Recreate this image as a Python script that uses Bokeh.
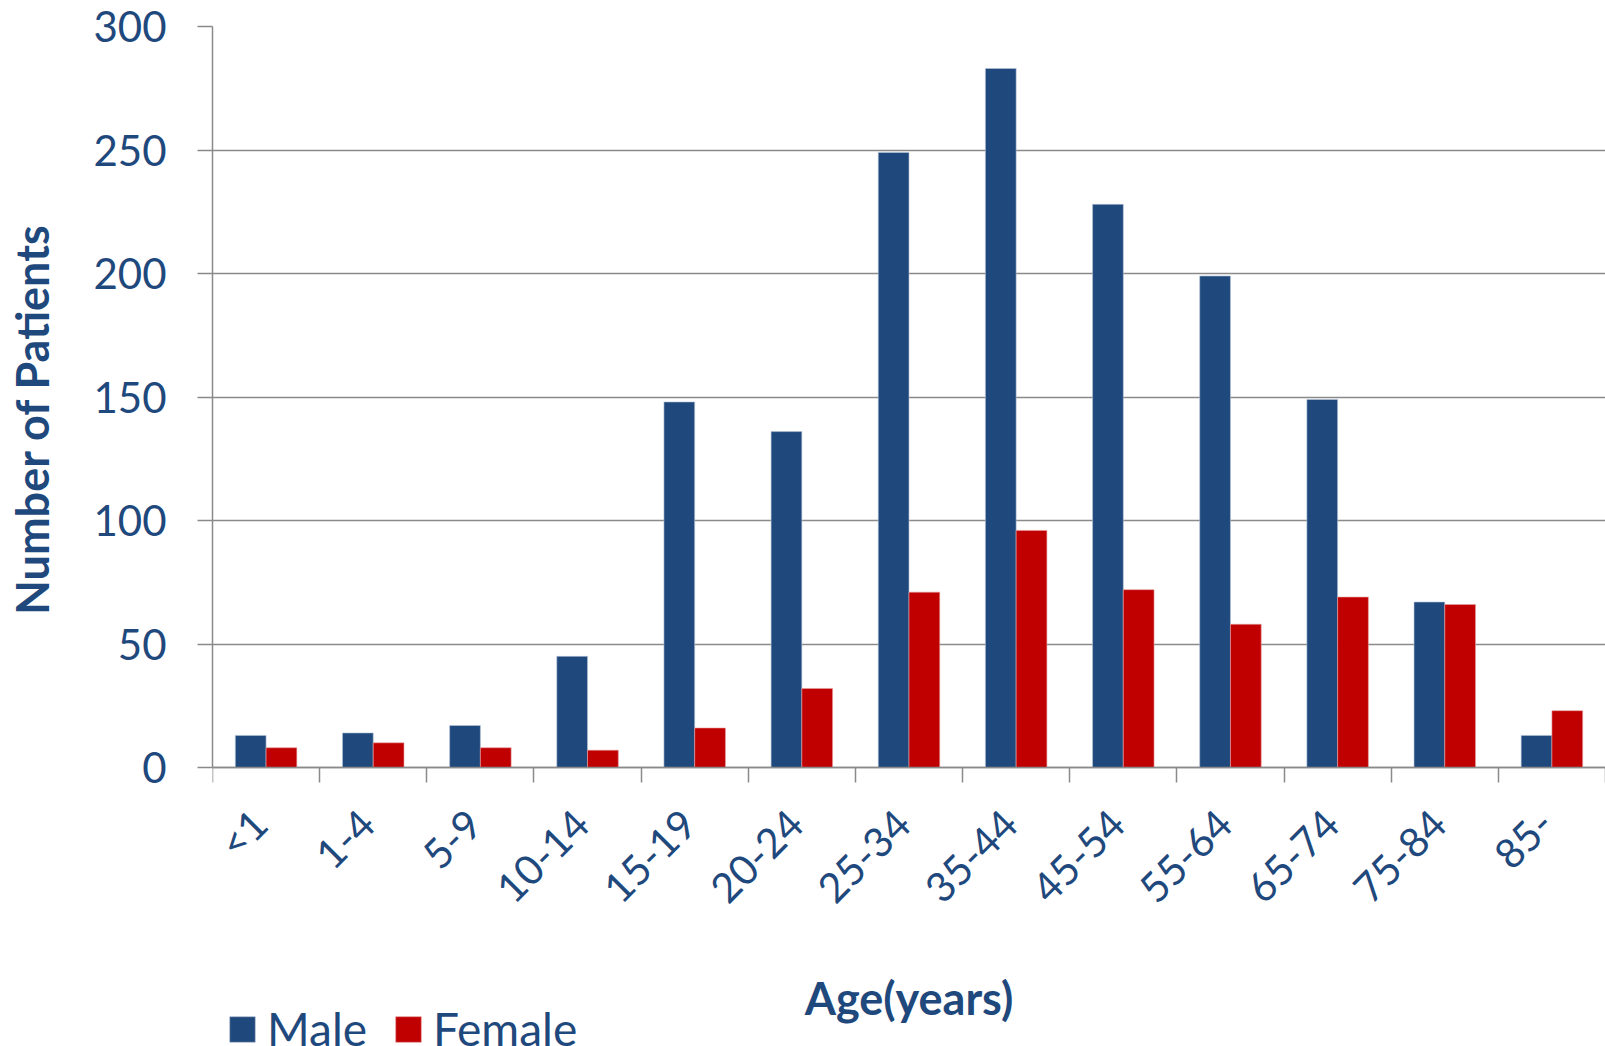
import math
from bokeh.plotting import figure
from bokeh.models import (ColumnDataSource, Range1d, FixedTicker, Legend, LegendItem, Title,
                          LinearAxis)
from bokeh.transform import dodge
from bokeh.embed import file_html
from bokeh.resources import INLINE

categories = ["<1", "1-4", "5-9", "10-14", "15-19", "20-24", "25-34", "35-44",
              "45-54", "55-64", "65-74", "75-84", "85-"]
male = [13, 14, 17, 45, 148, 136, 249, 283, 228, 199, 149, 67, 13]
female = [8, 10, 8, 7, 16, 32, 71, 96, 72, 58, 69, 66, 23]
y_ticks = [0, 50, 100, 150, 200, 250, 300]

BLUE = "#1F497D"
RED = "#C00000"
TEXT = "#1F497D"
GRID = "#8A8A8A"
FONT = "Lato"

# layout (pixels)
W, H = 1605, 1046
FRAME_LEFT, FRAME_TOP = 212, 26
ZERO_Y = 767          # pixel row of value 0
Y_MAX = 300
plot_px = ZERO_Y - FRAME_TOP
frame_h = H - FRAME_TOP
y_start = -Y_MAX * (frame_h - plot_px) / plot_px   # frame runs below the x axis for the legend
LABEL_SHIFT = -0.06   # rotated category labels sit slightly left of the category centre

idx = list(range(len(categories)))
src = ColumnDataSource(dict(idx=idx, male=male, female=female, cat=categories))

p = figure(width=W, height=H, output_backend="svg", toolbar_location=None,
           x_range=Range1d(-0.5, len(categories) - 0.5), y_range=Range1d(y_start, Y_MAX),
           min_border_left=FRAME_LEFT, min_border_right=0, min_border_top=FRAME_TOP,
           min_border_bottom=0)
p.outline_line_color = None
p.background_fill_color = "white"
p.border_fill_color = "white"

bw = 0.287
r_m = p.vbar(x=dodge("idx", -bw / 2, range=p.x_range), top="male", width=bw, bottom=0,
             source=src, fill_color=BLUE, line_color="#B8C4D6", line_width=0.6)
r_f = p.vbar(x=dodge("idx", bw / 2, range=p.x_range), top="female", width=bw, bottom=0,
             source=src, fill_color=RED, line_color="#E8A0A0", line_width=0.6)

# y axis
ya = p.yaxis[0]
ya.ticker = FixedTicker(ticks=y_ticks)
ya.bounds = (0, Y_MAX)
ya.major_tick_out = 15
ya.major_tick_in = 0
ya.minor_tick_out = 0
ya.minor_tick_in = 0
ya.axis_line_color = GRID
ya.axis_line_width = 1.5
ya.major_tick_line_color = GRID
ya.major_tick_line_width = 1.5
ya.major_label_standoff = 31
ya.major_label_text_font = FONT
ya.major_label_text_font_size = "42px"
ya.major_label_text_color = TEXT

# blank spacer between the tick labels and the y title (white tick in an empty area)
spacer = LinearAxis(ticker=FixedTicker(ticks=[-60]), major_label_overrides={-60: ""},
                    axis_line_color=None, major_tick_line_color="white",
                    minor_tick_line_color=None, major_tick_out=30, major_tick_in=0,
                    minor_tick_out=0, minor_tick_in=0, major_label_standoff=0,
                    major_label_text_font_size="1px")
p.add_layout(spacer, "left")

# y axis title, centred on the 0-300 part of the axis
p.add_layout(Title(text="Number of Patients", align="right", vertical_align="middle",
                   offset=197, standoff=2, text_font=FONT, text_font_style="bold",
                   text_font_size="45px", text_color=TEXT), "left")

# x axis drawn at value 0; labels at category centres, tick marks between categories
label_pos = [round(i + LABEL_SHIFT, 2) for i in idx]
xa = p.xaxis[0]
xa.fixed_location = 0
xa.ticker = FixedTicker(ticks=label_pos,
                        minor_ticks=[i - 0.5 for i in range(len(categories) + 1)])
xa.major_label_overrides = {pos: c for pos, c in zip(label_pos, categories)}
xa.major_tick_out = 0
xa.major_tick_in = 0
xa.minor_tick_out = 15
xa.minor_tick_in = 0
xa.minor_tick_line_color = GRID
xa.minor_tick_line_width = 1.5
xa.axis_line_color = GRID
xa.axis_line_width = 1.5
xa.major_label_orientation = math.pi / 4
xa.major_label_standoff = 34
xa.major_label_text_font = FONT
xa.major_label_text_font_size = "41px"
xa.major_label_text_color = TEXT
xa.axis_label = "Age(years)"
xa.axis_label_text_font = FONT
xa.axis_label_text_font_style = "bold"
xa.axis_label_text_font_size = "45px"
xa.axis_label_text_color = TEXT
xa.axis_label_standoff = 39

p.xgrid.visible = False
p.ygrid.grid_line_color = GRID
p.ygrid.grid_line_width = 1.5

legend = Legend(items=[LegendItem(label="Male", renderers=[r_m]),
                       LegendItem(label="Female", renderers=[r_f])],
                orientation="horizontal", location=(14, -10),
                glyph_width=32, glyph_height=32, label_standoff=9, spacing=25,
                padding=0, margin=0, border_line_color=None, background_fill_alpha=0,
                label_text_font=FONT, label_text_font_size="46px", label_text_color=TEXT)
p.add_layout(legend)

open("out.html", "w").write(file_html(p, INLINE))
